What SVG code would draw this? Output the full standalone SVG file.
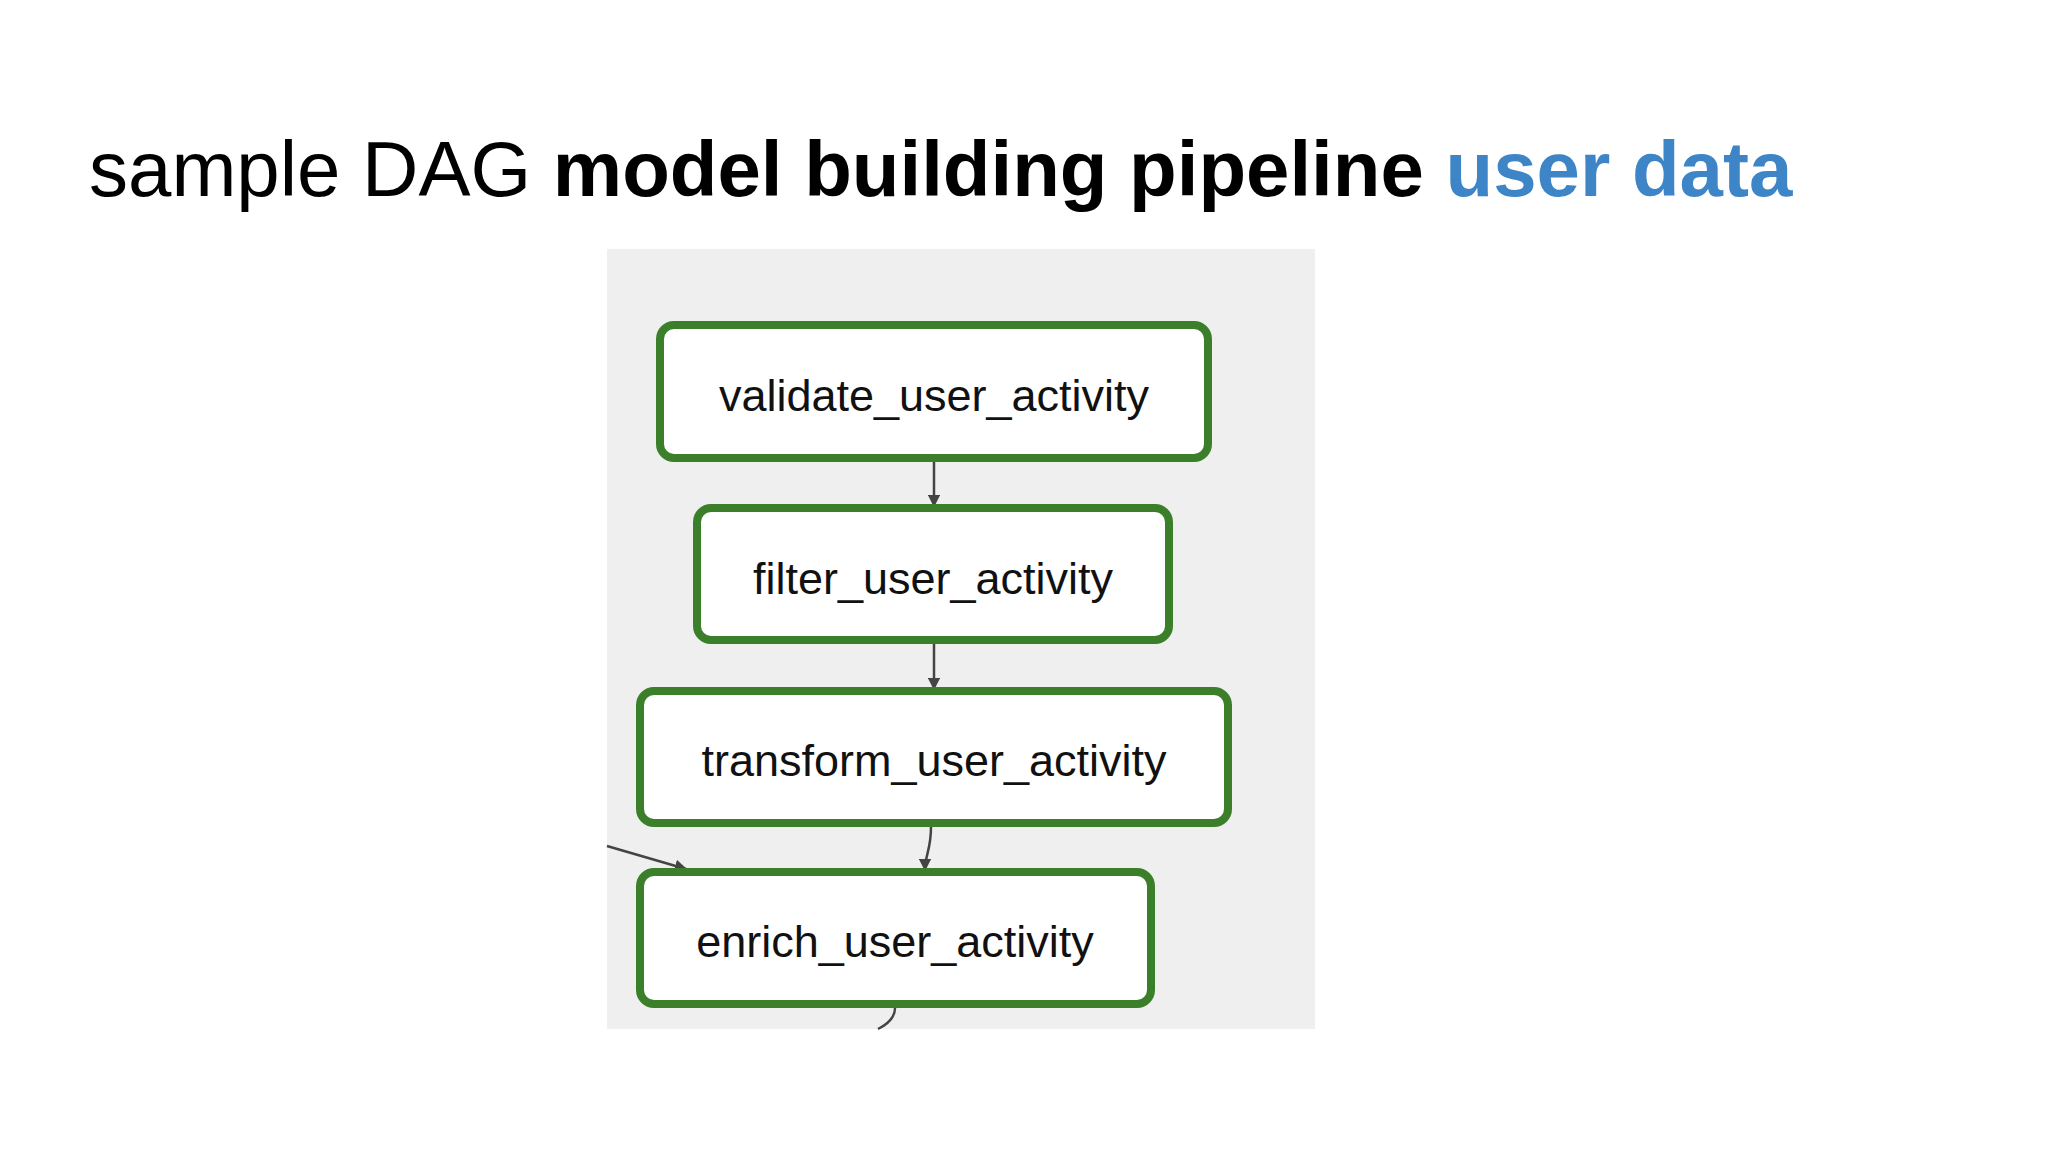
<svg xmlns="http://www.w3.org/2000/svg" width="2048" height="1152" viewBox="0 0 2048 1152">
<defs>
<style>
.n rect{fill:#fff;stroke:#3b7f2a;stroke-width:8}
.n text{font-family:"Liberation Sans",Arial,sans-serif;font-size:45px;fill:#111;text-anchor:middle}
.c path{fill:none;stroke:#444;stroke-width:2.5;marker-end:url(#a)}
</style>
<marker id="a" viewBox="0 0 10 10" refX="9" refY="5" markerWidth="5" markerHeight="5" orient="auto"><path d="M0,0L10,5L0,10z" fill="#444"/></marker>
</defs>
<rect width="2048" height="1152" fill="#fff"/>
<text x="89" y="196" font-family="Liberation Sans,Arial,sans-serif" font-size="78" fill="#000">sample DAG <tspan font-weight="bold">model building pipeline</tspan> <tspan font-weight="bold" fill="#3d85c6">user data</tspan></text>
<rect x="607" y="249" width="708" height="780" fill="#efefef"/>
<g class="c">
<path d="M934,462V506"/>
<path d="M934,644V689"/>
<path d="M931,827C931,850 925,855 925,870"/>
<path d="M607,846L686,869"/>
<path d="M895,1008C895,1018 888,1024 878,1029" style="marker-end:none"/>
</g>
<g id="validate" class="n"><rect x="660" y="325" width="548" height="133" rx="14"/><text x="934" y="411">validate_user_activity</text></g>
<g id="filter" class="n"><rect x="697" y="508" width="472" height="132" rx="14"/><text x="933" y="594">filter_user_activity</text></g>
<g id="transform" class="n"><rect x="640" y="691" width="588" height="132" rx="14"/><text x="934" y="776">transform_user_activity</text></g>
<g id="enrich" class="n"><rect x="640" y="872" width="511" height="132" rx="14"/><text x="895" y="957">enrich_user_activity</text></g>
</svg>
